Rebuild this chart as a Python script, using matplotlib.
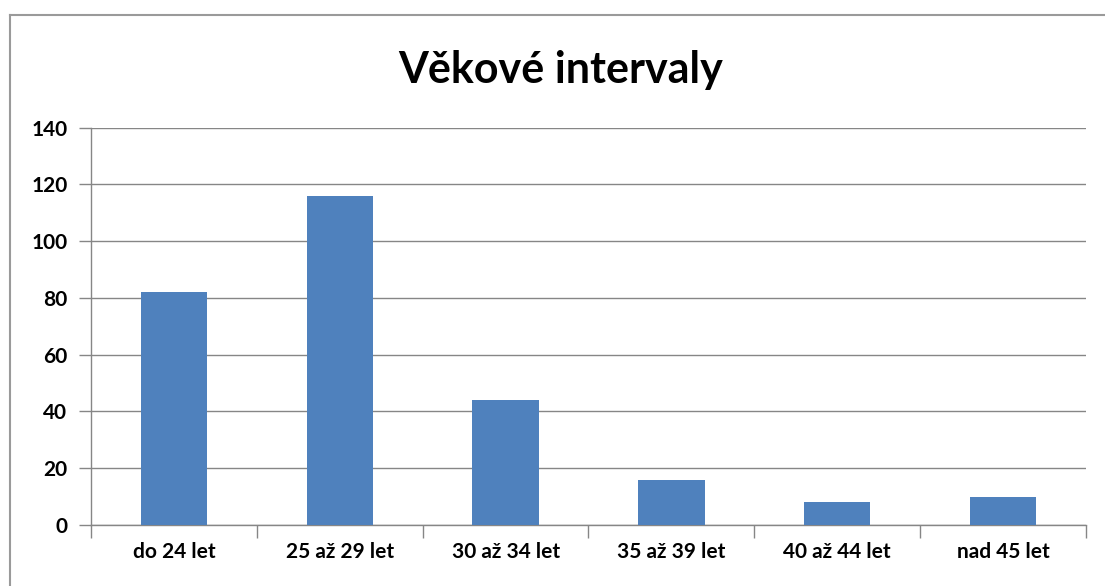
import matplotlib
matplotlib.use("Agg")
import matplotlib.pyplot as plt
from matplotlib.lines import Line2D

categories = ["do 24 let", "25 až 29 let", "30 až 34 let", "35 až 39 let", "40 až 44 let", "nad 45 let"]
values = [82, 116, 44, 16, 8, 10]
yticks = [0, 20, 40, 60, 80, 100, 120, 140]
title = "Věkové intervaly"

plt.rcParams['font.family'] = ['Lato', 'DejaVu Sans']

W, H = 1105, 586
fig = plt.figure(figsize=(W / 100, H / 100), dpi=100)
fig.patch.set_facecolor("white")
# outer chart frame (only top and left visible)
fig.lines.append(Line2D([9.5 / W, 9.5 / W], [0, 1 - 15 / H], transform=fig.transFigure,
                        color="#9a9a9a", linewidth=1.5))
fig.lines.append(Line2D([9.5 / W, 1], [1 - 15 / H, 1 - 15 / H], transform=fig.transFigure,
                        color="#9a9a9a", linewidth=1.5))

ax = fig.add_axes([91 / W, 1 - 525 / H, (1086 - 91) / W, (525 - 127.7) / H])
x = list(range(len(categories)))
ax.bar(x, values, width=0.4, color="#4F81BD", zorder=3)
ax.set_xlim(-0.5, len(categories) - 0.5)
ax.set_ylim(0, 140)
ax.set_yticks(yticks)
ax.set_yticklabels([str(t) for t in yticks], fontsize=15, fontweight="bold")
ax.set_xticks(x)
ax.set_xticklabels(categories, fontsize=15, fontweight="bold")
ax.tick_params(axis="x", length=0, pad=12)
ax.tick_params(axis="y", length=9, width=1, color="#868686", pad=8)
ax.set_xticks([i + 0.5 for i in range(-1, len(categories))], minor=True)
ax.tick_params(axis="x", which="minor", length=9, width=1, color="#868686", direction="out")
ax.grid(axis="y", color="#868686", linewidth=1, zorder=0)
for s in ["top", "right"]:
    ax.spines[s].set_visible(False)
for s in ["left", "bottom"]:
    ax.spines[s].set_color("#868686")
    ax.spines[s].set_linewidth(1)

fig.text(561 / W, 1 - 70 / H, title, ha="center", va="center", fontsize=31, fontweight="bold")

fig.savefig("out.png", dpi=100, facecolor="white")
